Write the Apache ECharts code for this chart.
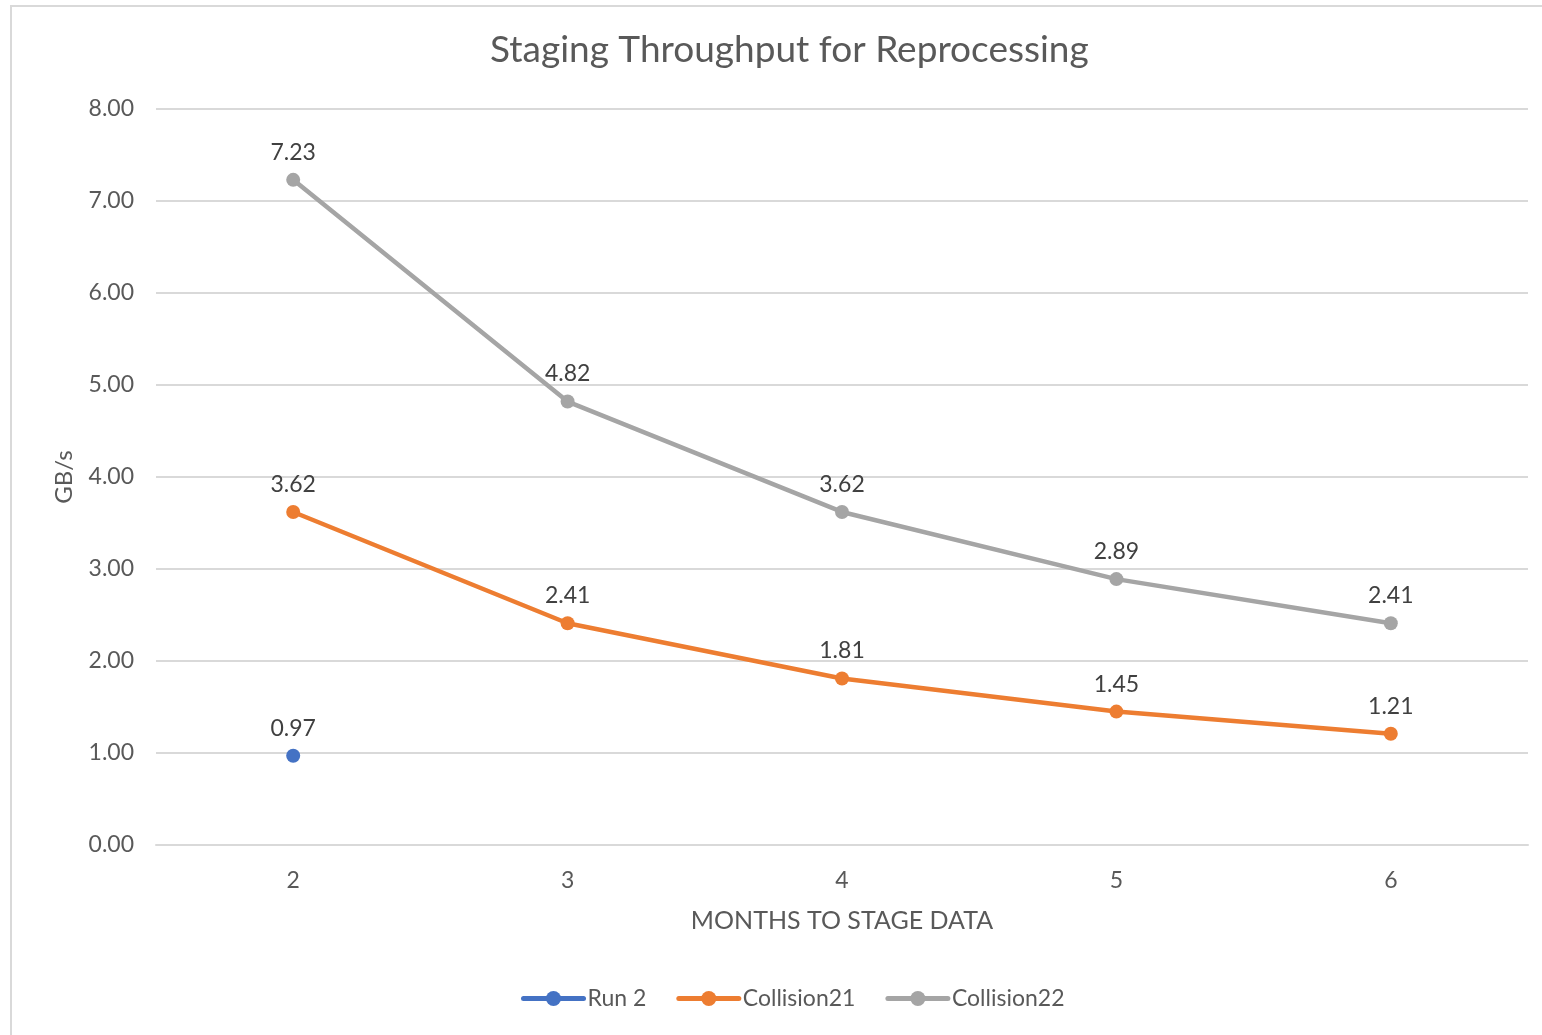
<!DOCTYPE html>
<html>
<head>
<meta charset="utf-8">
<script src="https://cdn.jsdelivr.net/npm/echarts@6/dist/echarts.min.js"></script>
<style>html,body{margin:0;padding:0;background:#fff}#c{width:1542px;height:1035px}</style>
</head>
<body>
<div id="c"></div>
<script>
const categories = ['2', '3', '4', '5', '6'];
const run2 = [0.97, null, null, null, null];
const collision21 = [3.62, 2.41, 1.81, 1.45, 1.21];
const collision22 = [7.23, 4.82, 3.62, 2.89, 2.41];

const FONT = 'Lato, "Open Sans", sans-serif';
const chart = echarts.init(document.getElementById('c'));

function series(name, data, color) {
  return {
    name: name,
    type: 'line',
    data: data,
    symbol: 'circle',
    symbolSize: 14,
    connectNulls: false,
    lineStyle: { color: color, width: 4.5 },
    itemStyle: { color: color },
    label: {
      show: true, position: 'top', distance: 9,
      color: '#404040', fontSize: 23, fontFamily: FONT,
      formatter: p => p.value == null ? '' : Number(p.value).toFixed(2)
    },
    emphasis: { disabled: true },
    animation: false
  };
}

chart.setOption({
  backgroundColor: '#fff',
  animation: false,
  graphic: [{
    type: 'rect',
    shape: { x: 11, y: 6, width: 1600, height: 1100 },
    style: { fill: 'none', stroke: '#d9d9d9', lineWidth: 2 },
    silent: true
  }],
  title: {
    text: 'Staging Throughput for Reprocessing',
    left: 485, top: 27,
    textStyle: { color: '#595959', fontSize: 37, fontWeight: 'normal', fontFamily: FONT }
  },
  legend: {
    bottom: 20, left: 516,
    itemWidth: 60, itemHeight: 19, itemGap: 30,
    lineStyle: { width: 5, cap: 'round' },
    textStyle: { color: '#595959', fontSize: 23, fontFamily: FONT, padding: [0, 0, 0, -1] },
    data: ['Run 2', 'Collision21', 'Collision22']
  },
  grid: { left: 156, right: 14, top: 109, bottom: 190 },
  xAxis: {
    type: 'category',
    data: categories,
    boundaryGap: true,
    name: 'MONTHS TO STAGE DATA',
    nameLocation: 'middle',
    nameGap: 63,
    nameTextStyle: { color: '#595959', fontSize: 25, fontFamily: FONT },
    axisLine: { show: true, lineStyle: { color: '#d9d9d9', width: 2 } },
    axisTick: { show: false },
    axisLabel: { color: '#595959', fontSize: 23, fontFamily: FONT, margin: 24 }
  },
  yAxis: {
    type: 'value',
    min: 0, max: 8, interval: 1,
    name: 'GB/s',
    nameLocation: 'middle',
    nameGap: 80,
    nameRotate: 90,
    nameTextStyle: { color: '#595959', fontSize: 24, fontFamily: FONT },
    axisLine: { show: false },
    axisTick: { show: false },
    axisLabel: { color: '#595959', fontSize: 23, fontFamily: FONT, margin: 22, formatter: v => v.toFixed(2) },
    splitLine: { lineStyle: { color: '#d9d9d9', width: 2 } }
  },
  series: [
    series('Run 2', run2, '#4472c4'),
    series('Collision21', collision21, '#ed7d31'),
    series('Collision22', collision22, '#a5a5a5')
  ]
});
</script>
</body>
</html>
